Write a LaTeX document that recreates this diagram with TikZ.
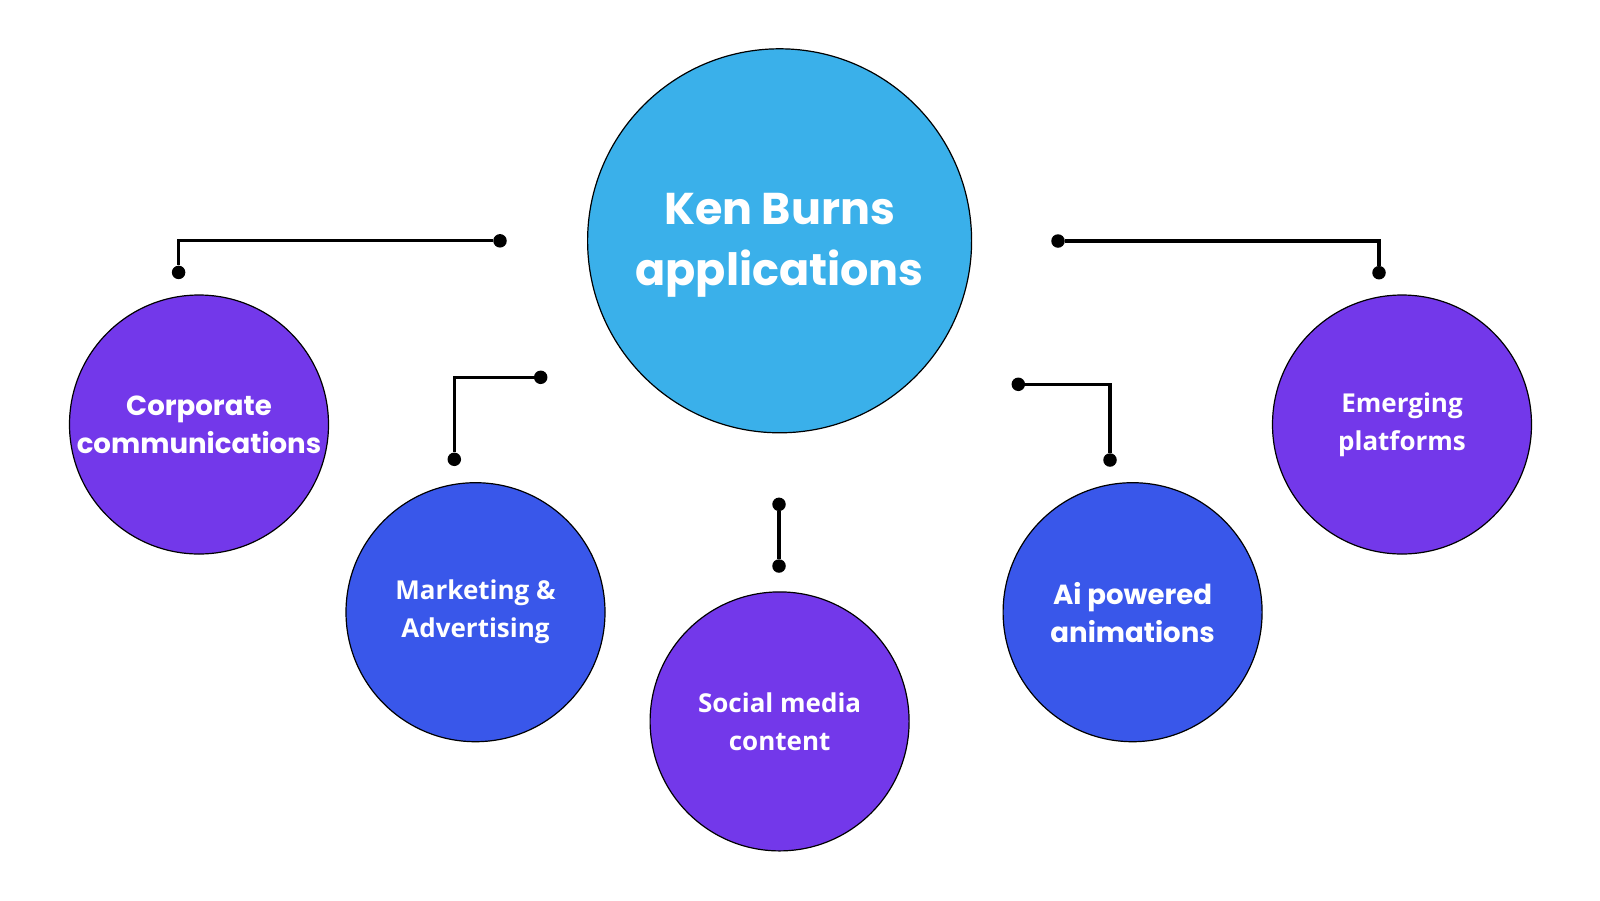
\documentclass[tikz,border=0pt]{standalone}
\usepackage{fontspec}
\newfontfamily\poppins{Poppins}
\newfontfamily\opensans{Open Sans}
\usetikzlibrary{positioning}
\definecolor{appsky}{HTML}{3AB0EA}
\definecolor{appviolet}{HTML}{7338EA}
\definecolor{appblue}{HTML}{3957EA}
\tikzstyle{hub}=[circle,draw=black,line width=1.2pt,fill=appsky,minimum size=384pt,inner sep=0pt,text=white,align=center,text height=102pt,font={\poppins\bfseries\fontsize{44.5}{61}\selectfont}]
\tikzstyle{leaf}=[circle,draw=black,line width=1.2pt,minimum size=259pt,inner sep=0pt,text=white,align=center]
\tikzstyle{dot}=[circle,fill=black,minimum size=13.5pt,inner sep=0pt]
\tikzstyle{link}=[draw,line width=3.2pt]

\begin{document}
\begin{tikzpicture}[x=1pt,y=-1pt]

  \fill[white] (0,0) rectangle (1600,900);
  \useasboundingbox (0,0) rectangle (1600,900);

  \node[hub] (hub) at (779.6,240.8) {Ken Burns\\applications};

  % leaves set in Poppins
  \foreach \x/\y/\name/\col/\label in {199/424.5/corp/appviolet/{Corporate\\communications},
                                       1132.6/612.2/ai/appblue/{Ai powered\\animations}}
    \node[leaf, fill=\col, font={\poppins\bfseries\fontsize{27.6}{38}\selectfont}] (\name) at (\x,\y) {\label};

  % leaves set in Open Sans
  \foreach \x/\y/\name/\col/\label in {475.5/612.2/mark/appblue/{Marketing \&\\Advertising},
                                       779.6/721.4/social/appviolet/{Social media\\content},
                                       1402/424.5/emerg/appviolet/{Emerging\\platforms}}
    \node[leaf, fill=\col, font={\opensans\bfseries\fontsize{26}{38}\selectfont}] (\name) at (\x,\y) {\label};

  % dots of the connectors
  \foreach \x/\y/\name in {500/240.8/d1a, 178.6/272.4/d1b,
                           540.7/377.3/d2a, 454.3/459.3/d2b,
                           1058/241/d3a, 1379/272.7/d3b,
                           1018.3/384.3/d4a, 1110/460/d4b,
                           779/504.3/d5a, 779/566/d5b}
    \node[dot] (\name) at (\x,\y) {};

  \foreach \source/\dest in {d1a/d1b, d2a/d2b, d3a/d3b, d4a/d4b}
    \draw[link] (\source) -| (\dest);
  \draw[link] (d5a) -- (d5b);

\end{tikzpicture}
\end{document}
